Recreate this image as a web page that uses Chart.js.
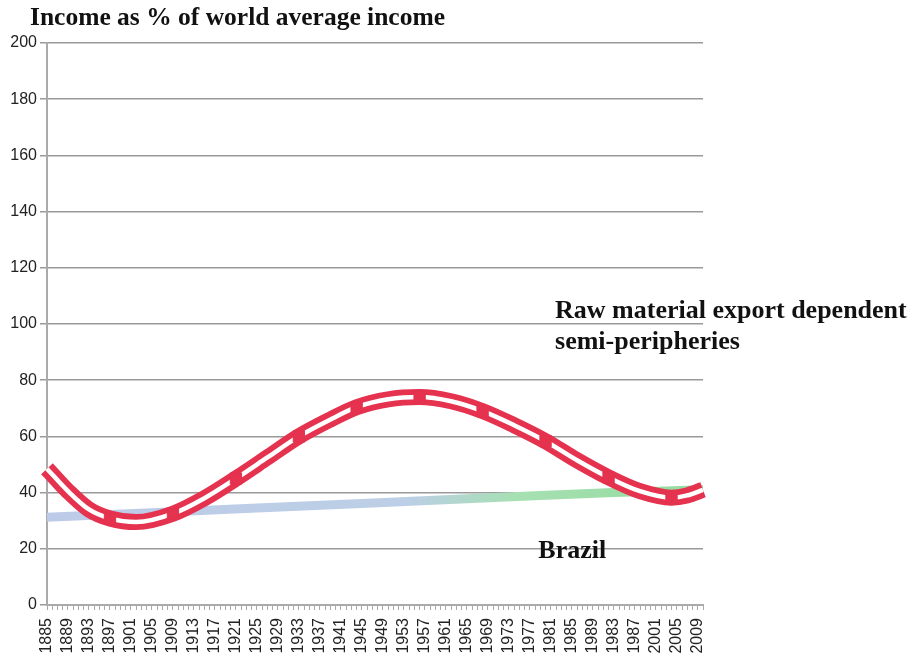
<!DOCTYPE html>
<html>
<head>
<meta charset="utf-8">
<script src="https://cdn.jsdelivr.net/npm/chart.js@4/dist/chart.umd.min.js"></script>
<style>
  html, body { margin: 0; padding: 0; background: #fff; }
  #wrap { width: 913px; height: 662px; }
</style>
</head>
<body>
<div id="wrap"><canvas id="chart" width="913" height="662"></canvas></div>
<script>
// yearly categories (one minor tick per year)
const years = [];
for (let y = 1885; y <= 2010; y++) years.push(String(y));

// labels printed every 4 years (as in the original, incl. its typos)
const tickLabels = ["1885", "1889", "1893", "1897", "1901", "1905", "1909", "1913",
  "1917", "1921", "1925", "1929", "1933", "1937", "1941", "1945", "1949", "1953",
  "1957", "1961", "1965", "1969", "1973", "1977", "1981", "1985", "1989", "1983",
  "1987", "2001", "2005", "2009"];

// raw material export dependent semi-peripheries (curve)
const semiYears = [1885, 1889, 1893, 1897, 1902, 1909, 1915, 1921, 1927, 1933, 1939,
  1944, 1950, 1956, 1962, 1968, 1974, 1980, 1986, 1992, 1998, 2004, 2007, 2010];
const semiValues = [48.5, 40.5, 34, 30.8, 29.5, 32.5, 38, 45, 52.5, 60, 66,
  70.4, 73.2, 74, 72.5, 69, 64, 58.3, 51.5, 45.4, 40.5, 38.2, 39, 41];

// markers on the curve
const markerYears = [1897, 1909, 1921, 1933, 1944, 1956, 1968, 1980, 1992, 2004];
const markerValues = [30.8, 32.5, 45, 60, 70.4, 74, 69, 58.3, 45.4, 38.2];

// Brazil
const brazilYears = [1885, 1925, 1965, 1993, 2010];
const brazilValues = [31.2, 34.5, 37.8, 40, 41];

const red = "#e4324f";
const toPoints = (xs, vs) => xs.map((x, i) => ({ x: String(x), y: vs[i] }));

function brazilStroke(c) {
  const { ctx, chartArea } = c.chart;
  if (!chartArea) return "#bccbe8";
  const g = ctx.createLinearGradient(chartArea.left, 0, chartArea.right, 0);
  g.addColorStop(0, "#bdcbe8");
  g.addColorStop(0.55, "#bccfe6");
  g.addColorStop(0.72, "#a6e0b2");
  g.addColorStop(1, "#94db9e");
  return g;
}

// title and text labels
const textPlugin = {
  id: "texts",
  afterDraw(chart) {
    const { ctx, scales } = chart;
    const x = scales.x, y = scales.y;
    ctx.save();
    ctx.fillStyle = "#111";
    ctx.textBaseline = "middle";
    ctx.textAlign = "left";
    ctx.font = "bold 25.5px 'Liberation Serif', 'Times New Roman', serif";
    ctx.fillText("Income as % of world average income", 30, 18);
    const xi = (yr) => x.getPixelForValue(years.indexOf(String(yr)));
    ctx.font = "bold 26px 'Liberation Serif', 'Times New Roman', serif";
    ctx.fillText("Raw material export dependent", xi(1982) - 1, y.getPixelForValue(104.5));
    ctx.fillText("semi-peripheries", xi(1982) - 1, y.getPixelForValue(93.5));
    ctx.fillText("Brazil", xi(1979) - 2, y.getPixelForValue(19));
    ctx.restore();
  }
};

const ctx = document.getElementById("chart").getContext("2d");
const chart = new Chart(ctx, {
  type: "line",
  data: {
    labels: years,
    datasets: [
      {
        label: "markers",
        data: toPoints(markerYears, markerValues),
        showLine: false,
        pointStyle: "rect",
        pointRadius: 8,
        backgroundColor: red,
        borderColor: red,
        borderWidth: 1,
        order: 0,
      },
      {
        label: "inner",
        data: toPoints(semiYears, semiValues),
        borderColor: "#ffffff",
        borderWidth: 4.5,
        cubicInterpolationMode: "monotone",
        pointRadius: 0,
        order: 1,
      },
      {
        label: "Raw material export dependent semi-peripheries",
        data: toPoints(semiYears, semiValues),
        borderColor: red,
        borderWidth: 16,
        borderCapStyle: "butt",
        cubicInterpolationMode: "monotone",
        pointRadius: 0,
        order: 2,
      },
      {
        label: "Brazil",
        data: toPoints(brazilYears, brazilValues),
        borderColor: brazilStroke,
        borderWidth: 9,
        tension: 0.3,
        pointRadius: 0,
        order: 3,
      },
    ],
  },
  options: {
    responsive: false,
    animation: false,
    layout: { padding: { top: 43, right: 210, bottom: 0, left: 0 } },
    plugins: {
      legend: { display: false },
      tooltip: { enabled: false },
      title: { display: false },
    },
    scales: {
      x: {
        type: "category",
        offset: false,
        afterFit: (s) => { s.height = 57; },
        ticks: {
          autoSkip: false,
          maxRotation: 90,
          minRotation: 90,
          padding: 8,
          color: "#222",
          font: { family: "'Liberation Sans', Arial, sans-serif", size: 16 },
          callback: (v, i) => (i % 4 === 0 ? tickLabels[i / 4] : ""),
        },
        grid: { drawOnChartArea: false, tickLength: 5, color: "#a8a8a8", lineWidth: 1 },
        border: { color: "#aaaaaa", width: 2 },
      },
      y: {
        min: 0,
        max: 200,
        afterFit: (s) => { s.width = 47; },
        ticks: {
          stepSize: 20,
          padding: 3,
          color: "#222",
          font: { family: "'Liberation Sans', Arial, sans-serif", size: 16 },
        },
        grid: { color: "#9a9a9a", lineWidth: 1.5, tickLength: 7 },
        border: { color: "#aaaaaa", width: 2 },
      },
    },
  },
  plugins: [textPlugin],
});
</script>
</body>
</html>
